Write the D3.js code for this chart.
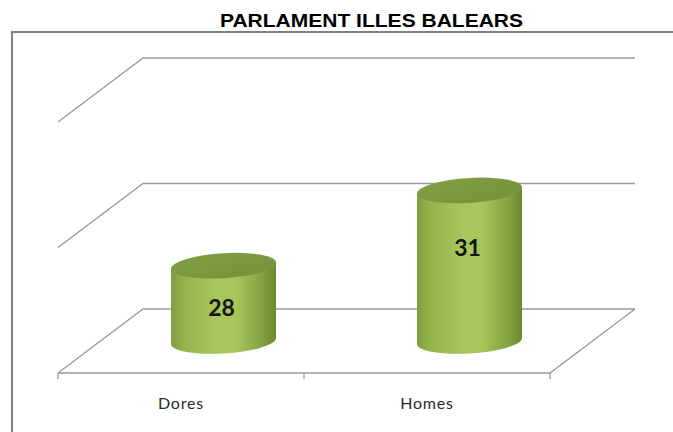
<!DOCTYPE html>
<html>
<head>
<meta charset="utf-8">
<script src="https://cdn.jsdelivr.net/npm/d3@7"></script>
<style>
  body { margin: 0; background: #fff; }
  .grid-line { fill: none; stroke: #9a9a9a; stroke-width: 1.3; }
  .cat-label { font-family: Lato, "Open Sans", sans-serif; font-size: 16px; fill: #2a2a2a; letter-spacing: 0.8px; }
  .value-label { font-family: Lato, "Open Sans", sans-serif; font-size: 23px; font-weight: 700; fill: #151515; }
  .title { font-family: "Liberation Sans", Arial, sans-serif; font-size: 19px; font-weight: 700; fill: #000; }
</style>
</head>
<body>
<svg id="chart" width="673" height="432"></svg>
<script>
// data
var categories = ["Dores", "Homes"];
var values = [28, 31];
var axisTicks = [25, 30, 35];
var title = "PARLAMENT ILLES BALEARS";

var Config = {
  BackLeft: 143,
  BackRight: 635,
  BackBottom: 309,
  BackTop: 58,
  DepthX: -85,
  DepthY: 64,
  CylRx: 52.5,
  CylRy: 12.5,
  CylTilt: -3.3,
  TickLength: 6
};

var svg = d3.select("#chart");

// outer frame (runs past right and bottom edge)
svg.append("rect")
  .attr("x", 12)
  .attr("y", 32)
  .attr("width", 700)
  .attr("height", 430)
  .attr("fill", "none")
  .attr("stroke", "#808080")
  .attr("stroke-width", 2);

svg.append("text")
  .attr("class", "title")
  .attr("x", 371.5)
  .attr("y", 27)
  .attr("text-anchor", "middle")
  .attr("textLength", 303)
  .attr("lengthAdjust", "spacingAndGlyphs")
  .text(title);

// scales on the back wall
var y = d3.scaleLinear()
  .domain([axisTicks[0], axisTicks[axisTicks.length - 1]])
  .range([Config.BackBottom, Config.BackTop]);

var x = d3.scaleBand()
  .domain(categories)
  .range([Config.BackLeft, Config.BackRight]);

// front axis scale (floor front edge)
var xFront = d3.scaleBand()
  .domain(categories)
  .range([Config.BackLeft + Config.DepthX, Config.BackRight + Config.DepthX]);

// gridlines: side wall diagonal + back wall line
svg.selectAll(".grid-line")
  .data(axisTicks)
  .enter()
  .append("polyline")
  .attr("class", "grid-line")
  .attr("points", function (d) {
    var yy = y(d);
    return [
      [Config.BackLeft + Config.DepthX, yy + Config.DepthY],
      [Config.BackLeft, yy],
      [Config.BackRight, yy]
    ].join(" ");
  });

// floor front edge and right edge
var floorY = y(axisTicks[0]) + Config.DepthY;
svg.append("polyline")
  .attr("class", "grid-line")
  .attr("points", [
    [Config.BackLeft + Config.DepthX, floorY],
    [Config.BackRight + Config.DepthX, floorY],
    [Config.BackRight, y(axisTicks[0])]
  ].join(" "));

// category ticks
var tickXs = categories.map(function (c) { return xFront(c); });
tickXs.push(xFront.range()[1]);
svg.selectAll(".cat-tick")
  .data(tickXs)
  .enter()
  .append("line")
  .attr("class", "grid-line")
  .attr("x1", function (d) { return d; })
  .attr("x2", function (d) { return d; })
  .attr("y1", floorY)
  .attr("y2", floorY + Config.TickLength);

svg.selectAll(".cat-label")
  .data(categories)
  .enter()
  .append("text")
  .attr("class", "cat-label")
  .attr("x", function (d) { return xFront(d) + xFront.bandwidth() / 2; })
  .attr("y", 409)
  .attr("text-anchor", "middle")
  .text(function (d) { return d; });

// gradients
var defs = svg.append("defs");
var sideGrad = defs.append("linearGradient").attr("id", "cylSide");
[
  ["0%", "#7f9d3c"], ["12%", "#94b34d"], ["45%", "#a8c85d"],
  ["62%", "#a6c65a"], ["85%", "#86a443"], ["100%", "#6a8a2e"]
].forEach(function (s) {
  sideGrad.append("stop").attr("offset", s[0]).attr("stop-color", s[1]);
});
var topGrad = defs.append("linearGradient").attr("id", "cylTop")
  .attr("x1", 0).attr("y1", 0).attr("x2", 1).attr("y2", 1);
[["0%", "#819f42"], ["100%", "#73923a"]].forEach(function (s) {
  topGrad.append("stop").attr("offset", s[0]).attr("stop-color", s[1]);
});

// cylinders sit half way into the depth
var baseY = y(axisTicks[0]) + Config.DepthY / 2;

var cyl = svg.selectAll(".cyl")
  .data(values)
  .enter()
  .append("g")
  .attr("class", "cyl")
  .attr("transform", function (d, i) {
    var cx = x(categories[i]) + x.bandwidth() / 2 + Config.DepthX / 2;
    return "translate(" + cx + ",0) skewY(" + Config.CylTilt + ")";
  });

cyl.append("path")
  .attr("fill", "url(#cylSide)")
  .attr("d", function (d) {
    var rx = Config.CylRx, ry = Config.CylRy;
    var yt = y(d) + Config.DepthY / 2;
    return "M" + (-rx) + "," + yt +
      "L" + (-rx) + "," + baseY +
      "A" + rx + "," + ry + " 0 0 0 " + rx + "," + baseY +
      "L" + rx + "," + yt + "Z";
  });

cyl.append("ellipse")
  .attr("fill", "url(#cylTop)")
  .attr("cx", 0)
  .attr("cy", function (d) { return y(d) + Config.DepthY / 2; })
  .attr("rx", Config.CylRx)
  .attr("ry", Config.CylRy);

// value labels
svg.selectAll(".value-label")
  .data(values)
  .enter()
  .append("text")
  .attr("class", "value-label")
  .attr("x", function (d, i) { return x(categories[i]) + x.bandwidth() / 2 + Config.DepthX / 2 - 2; })
  .attr("y", function (d) {
    var yt = y(d) + Config.DepthY / 2;
    return yt + 25 + 0.21 * (baseY - yt);
  })
  .attr("text-anchor", "middle")
  .attr("dominant-baseline", "central")
  .text(function (d) { return d; });
</script>
</body>
</html>
